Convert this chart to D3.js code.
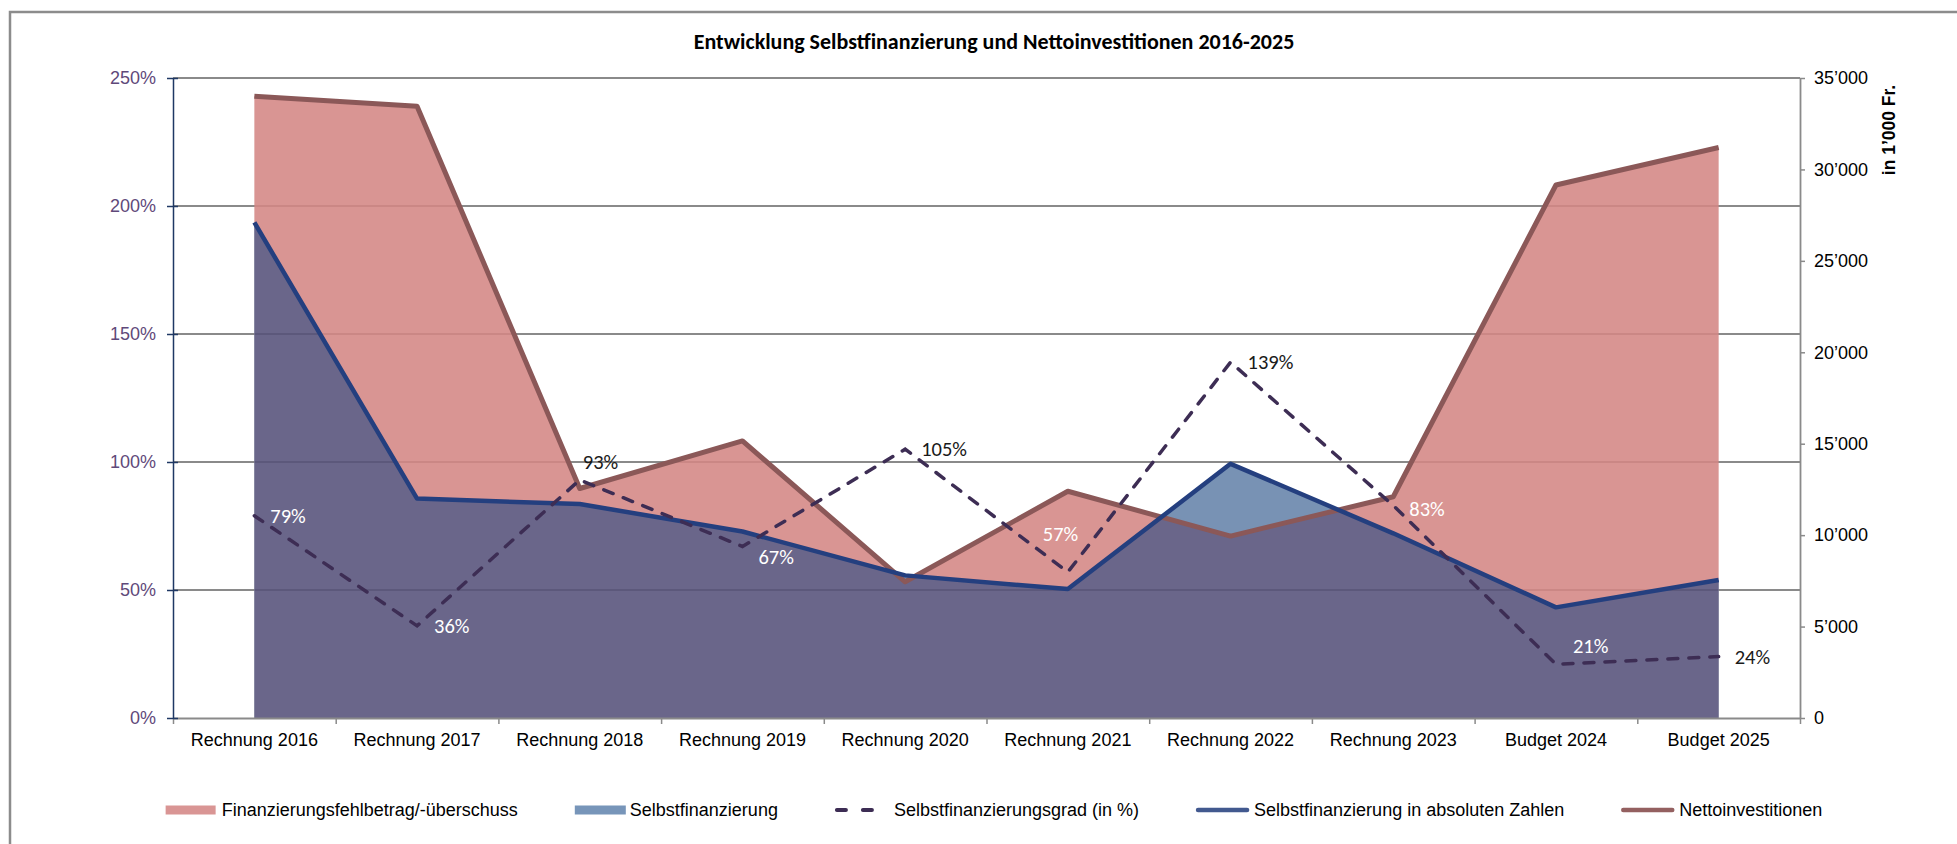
<!DOCTYPE html>
<html>
<head>
<meta charset="utf-8">
<script src="https://cdn.jsdelivr.net/npm/d3@7"></script>
<style>
  body { margin: 0; background: #fff; }
  svg { display: block; }
  .axis text { font-family: "Liberation Sans", Arial, sans-serif; font-size: 18px; }
  .lbl { font-family: Carlito, Calibri, Lato, sans-serif; font-size: 20.5px; }
</style>
</head>
<body>
<div id="chart"></div>
<script>
// values (amounts in 1'000 Fr.)
const categories = ["Rechnung 2016", "Rechnung 2017", "Rechnung 2018", "Rechnung 2019", "Rechnung 2020",
    "Rechnung 2021", "Rechnung 2022", "Rechnung 2023", "Budget 2024", "Budget 2025"];
const nettoinvestitionen = [34000, 33450, 12550, 15150, 7450, 12400, 9950, 12100, 29150, 31200];
const selbstfinanzierung = [27100, 12000, 11700, 10200, 7800, 7050, 13900, 10100, 6050, 7550];
const selbstfinanzierungsgrad = [79, 36, 93, 67, 105, 57, 139, 83, 21, 24];
const leftTicks = [0, 50, 100, 150, 200, 250];
const rightTicks = [0, 5000, 10000, 15000, 20000, 25000, 30000, 35000];
const legendLabels = ["Finanzierungsfehlbetrag/-überschuss", "Selbstfinanzierung",
    "Selbstfinanzierungsgrad (in %)", "Selbstfinanzierung in absoluten Zahlen", "Nettoinvestitionen"];
const title = "Entwicklung Selbstfinanzierung und Nettoinvestitionen 2016-2025";
const rightTitle = "in 1’000 Fr.";

// hand-nudged data label positions (dx, dy from the point), as in the original
const labelNudge = [[16, 0], [17, 0], [3, -18], [16, 11], [16, 0], [-25, -38], [17, 0], [16, 3], [17, -18], [16, 0]];

const width = 1957, height = 844;
const plot = {left: 173, right: 1800, top: 78, bottom: 718};

const colors = {
    pink: "#d48785", blue: "#6684aa", navy: "#56527a",
    netto: "#8b5858", selbst: "#243f7f", grad: "#3d2d54",
    grid: "#8a8a8a", leftAxis: "#1f3864", leftText: "#5f497a"
};

const svg = d3.select("#chart").append("svg")
    .attr("width", width)
    .attr("height", height);

// chart frame
svg.append("rect")
    .attr("x", 10).attr("y", 12)
    .attr("width", width + 20).attr("height", height + 20)
    .attr("fill", "none")
    .attr("stroke", "#8c8c8c")
    .attr("stroke-width", 2.5);

const x = d3.scaleBand().domain(categories).range([plot.left, plot.right]);
const cx = (d, i) => x(categories[i]) + x.bandwidth() / 2;
const yL = d3.scaleLinear().domain([0, 250]).range([plot.bottom, plot.top]);
const yR = d3.scaleLinear().domain([0, 35000]).range([plot.bottom, plot.top]);

const chf = d3.formatLocale({decimal: ".", thousands: "’", grouping: [3], currency: ["", ""]}).format(",");

// gridlines
svg.append("g")
    .selectAll("line")
    .data(leftTicks.filter(d => d > 0))
    .enter().append("line")
    .attr("x1", plot.left).attr("x2", plot.right)
    .attr("y1", d => yL(d)).attr("y2", d => yL(d))
    .attr("stroke", colors.grid)
    .attr("stroke-width", 1.8);

// areas (drawn opaque inside a translucent group)
const areaNetto = d3.area().x(cx).y0(plot.bottom).y1(d => yR(d));
const areaSelbst = d3.area().x(cx).y0(plot.bottom).y1(d => yR(d));

svg.append("clipPath").attr("id", "nettoClip")
    .append("path").attr("d", areaNetto(nettoinvestitionen));

const areas = svg.append("g").attr("opacity", 0.88);
areas.append("path")
    .attr("d", areaNetto(nettoinvestitionen))
    .attr("fill", colors.pink);
areas.append("path")
    .attr("d", areaSelbst(selbstfinanzierung))
    .attr("fill", colors.blue);
areas.append("path")
    .attr("d", areaSelbst(selbstfinanzierung))
    .attr("clip-path", "url(#nettoClip)")
    .attr("fill", colors.navy);

// axes
const xAxis = svg.append("g")
    .attr("class", "axis")
    .attr("transform", "translate(0," + plot.bottom + ")")
    .call(d3.axisBottom(x).tickSize(0).tickPadding(15));
xAxis.select(".domain").attr("stroke", colors.grid).attr("stroke-width", 2);
xAxis.selectAll("text").attr("fill", "#000");

const xTicks = d3.scaleLinear().domain([0, categories.length]).range([plot.left, plot.right]);
svg.append("g")
    .attr("transform", "translate(0," + plot.bottom + ")")
    .call(d3.axisBottom(xTicks).ticks(categories.length).tickSize(6).tickFormat(""))
    .call(g => g.select(".domain").remove())
    .call(g => g.selectAll(".tick line").attr("stroke", colors.grid).attr("stroke-width", 1.5));

const leftAxis = svg.append("g")
    .attr("class", "axis")
    .attr("transform", "translate(" + plot.left + ",0)")
    .call(d3.axisLeft(yL).tickValues(leftTicks).tickFormat(d => d + "%").tickSizeInner(6).tickSizeOuter(0).tickPadding(11));
leftAxis.select(".domain").attr("stroke", colors.leftAxis).attr("stroke-width", 1.5);
leftAxis.selectAll(".tick line").attr("x1", 5).attr("x2", -6).attr("stroke", colors.leftAxis).attr("stroke-width", 1.5);
leftAxis.selectAll("text").attr("fill", colors.leftText);

const rightAxis = svg.append("g")
    .attr("class", "axis")
    .attr("transform", "translate(" + plot.right + ",0)")
    .call(d3.axisRight(yR).tickValues(rightTicks).tickFormat(chf).tickSizeInner(5).tickSizeOuter(0).tickPadding(9));
rightAxis.select(".domain").attr("stroke", colors.grid).attr("stroke-width", 1.8);
rightAxis.selectAll(".tick line").attr("stroke", colors.grid).attr("stroke-width", 1.5);
rightAxis.selectAll("text").attr("fill", "#000");

svg.append("text")
    .attr("transform", "translate(1889,130) rotate(-90)")
    .attr("text-anchor", "middle")
    .attr("dominant-baseline", "central")
    .style("font-family", "'Liberation Sans', Arial, sans-serif")
    .style("font-size", "17.5px")
    .style("font-weight", "bold")
    .text(rightTitle);

// lines
const line = d3.line().x(cx);
svg.append("path")
    .datum(nettoinvestitionen)
    .attr("fill", "none")
    .attr("stroke", colors.netto)
    .attr("stroke-width", 5)
    .attr("stroke-linejoin", "round")
    .attr("d", line.y(d => yR(d)));

svg.append("path")
    .datum(selbstfinanzierung)
    .attr("fill", "none")
    .attr("stroke", colors.selbst)
    .attr("stroke-width", 4.5)
    .attr("stroke-linejoin", "round")
    .attr("d", line.y(d => yR(d)));

svg.append("path")
    .datum(selbstfinanzierungsgrad)
    .attr("fill", "none")
    .attr("stroke", colors.grad)
    .attr("stroke-width", 3.5)
    .attr("stroke-dasharray", "10,11")
    .attr("stroke-linecap", "round")
    .attr("d", line.y(d => yL(d)));

// data labels: white where they sit on a filled area
const last = selbstfinanzierungsgrad.length - 1;
svg.append("g")
    .selectAll("text")
    .data(selbstfinanzierungsgrad)
    .enter().append("text")
    .attr("class", "lbl")
    .attr("x", (d, i) => cx(d, i) + labelNudge[i][0])
    .attr("y", (d, i) => yL(d) + labelNudge[i][1])
    .attr("dominant-baseline", "central")
    .attr("fill", (d, i) => {
        const ly = yL(d) + labelNudge[i][1];
        const inside = i < last && yR.invert(ly) < Math.max(nettoinvestitionen[i], selbstfinanzierung[i]);
        return inside ? "#ffffff" : "#1a1a1a";
    })
    .text(d => d + "%");

// title
svg.append("text")
    .attr("x", 994).attr("y", 41)
    .attr("text-anchor", "middle")
    .attr("dominant-baseline", "central")
    .style("font-family", "Carlito, Calibri, Lato, sans-serif")
    .style("font-size", "22px")
    .style("font-weight", "bold")
    .text(title);

// legend
const legend = svg.append("g").attr("class", "axis");
const symW = [50, 51, 42, 53, 53];
const symGap = [6, 4, 17, 5, 5];
const itemGap = 57;
let lx = 0;
legendLabels.forEach((t, i) => {
    const g = legend.append("g").attr("transform", "translate(" + lx + ",0)");
    if (i < 2) {
        g.append("rect").attr("x", 0).attr("y", -4.5).attr("width", symW[i]).attr("height", 9)
            .attr("fill", i === 0 ? "#d99594" : "#7795b9");
    } else if (i === 2) {
        g.append("line").attr("x1", 2).attr("x2", symW[i] - 2).attr("y1", 0).attr("y2", 0)
            .attr("stroke", colors.grad).attr("stroke-width", 4)
            .attr("stroke-linecap", "round").attr("stroke-dasharray", "9,17");
    } else {
        g.append("line").attr("x1", 2).attr("x2", symW[i] - 2).attr("y1", 0).attr("y2", 0)
            .attr("stroke", i === 3 ? "#42598f" : "#946060").attr("stroke-width", 4.5)
            .attr("stroke-linecap", "round");
    }
    const txt = g.append("text")
        .attr("x", symW[i] + symGap[i])
        .attr("y", 0)
        .attr("dominant-baseline", "central")
        .attr("fill", "#000")
        .text(t);
    lx += symW[i] + symGap[i] + txt.node().getComputedTextLength() + itemGap;
});
const legendWidth = lx - itemGap;
legend.attr("transform", "translate(" + (994 - legendWidth / 2) + ",810)");
</script>
</body>
</html>
